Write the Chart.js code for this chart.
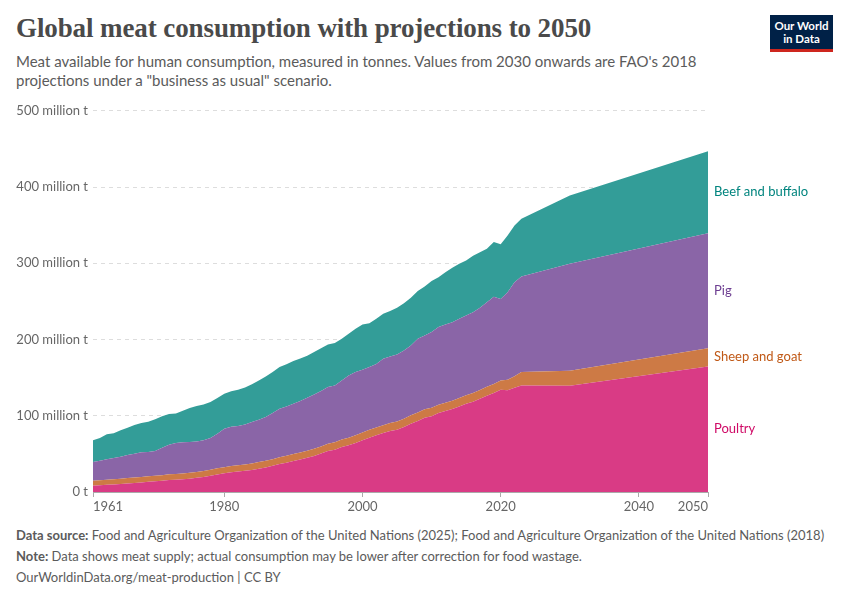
<!DOCTYPE html>
<html lang="en">
<head>
    <meta charset="UTF-8">
    <title>Global meat consumption with projections to 2050</title>
    <script src="https://cdnjs.cloudflare.com/ajax/libs/Chart.js/4.4.0/chart.umd.min.js"></script>
    <style>
        * {
            margin: 0;
            padding: 0;
            box-sizing: border-box;
        }

        body {
            width: 850px;
            height: 600px;
            background: #fff;
            font-family: 'Lato', sans-serif;
            position: relative;
            overflow: hidden;
        }

        h1 {
            position: absolute;
            left: 16px;
            top: 13px;
            font-family: 'Liberation Serif', serif;
            font-weight: 700;
            font-size: 27px;
            color: #4a4a4a;
            letter-spacing: -0.1px;
        }

        .subtitle {
            position: absolute;
            left: 16px;
            top: 52px;
            width: 720px;
            font-size: 15px;
            line-height: 18.5px;
            color: #5b5b5b;
        }

        .logo {
            position: absolute;
            left: 770px;
            top: 15px;
            width: 63px;
            height: 37px;
            background: #002147;
            border-bottom: 3px solid #ce261e;
            color: #fff;
            font-size: 11.5px;
            line-height: 13px;
            text-align: center;
            padding-top: 4px;
            font-weight: 700;
        }

        .chart-box {
            position: absolute;
            left: 0;
            top: 98px;
            width: 850px;
            height: 422px;
        }

        .footer {
            position: absolute;
            left: 16px;
            top: 525px;
            font-size: 13px;
            line-height: 21px;
            color: #5b5b5b;
        }

        .footer b {
            font-weight: 700;
        }
    </style>
</head>
<body>
    <h1>Global meat consumption with projections to 2050</h1>
    <div class="subtitle">Meat available for human consumption, measured in tonnes. Values from 2030 onwards are FAO's 2018 projections under a "business as usual" scenario.</div>
    <div class="logo">Our World<br>in Data</div>

    <div class="chart-box">
        <canvas id="meatChart"></canvas>
    </div>

    <div class="footer">
        <div><b>Data source:</b> Food and Agriculture Organization of the United Nations (2025); Food and Agriculture Organization of the United Nations (2018)</div>
        <div><b>Note:</b> Data shows meat supply; actual consumption may be lower after correction for food wastage.</div>
        <div>OurWorldinData.org/meat-production | CC BY</div>
    </div>

    <script>
        // years: 1961-2023 observed, 2030 and 2050 FAO projections
        const years = [
            1961, 1962, 1963, 1964, 1965, 1966, 1967, 1968, 1969, 1970,
            1971, 1972, 1973, 1974, 1975, 1976, 1977, 1978, 1979, 1980,
            1981, 1982, 1983, 1984, 1985, 1986, 1987, 1988, 1989, 1990,
            1991, 1992, 1993, 1994, 1995, 1996, 1997, 1998, 1999, 2000,
            2001, 2002, 2003, 2004, 2005, 2006, 2007, 2008, 2009, 2010,
            2011, 2012, 2013, 2014, 2015, 2016, 2017, 2018, 2019, 2020,
            2021, 2022, 2023, 2030, 2050
        ];

        // million tonnes
        const poultry = [
            8.3, 8.8, 9.5, 10.0, 10.6, 11.3, 11.9, 12.6, 13.3, 14.0,
            14.8, 15.8, 16.2, 16.8, 17.5, 18.6, 19.8, 21.2, 23.0, 24.6,
            26.0, 26.8, 27.8, 29.0, 30.6, 32.2, 34.3, 36.6, 38.4, 40.6,
            42.5, 44.8, 47.3, 50.4, 53.7, 55.5, 59.0, 61.2, 64.2, 67.8,
            71.3, 74.3, 77.3, 80.0, 81.8, 85.2, 89.6, 93.1, 97.5, 99.5,
            103.5, 106.2, 108.8, 112.3, 115.8, 118.5, 122.4, 126.3, 129.8, 134.2,
            133.3, 136.8, 139.8, 139.5, 164.7
        ];
        const sheepGoat = [
            6.5, 6.6, 6.7, 6.8, 6.9, 7.0, 7.1, 7.2, 7.2, 7.3,
            7.3, 7.4, 7.4, 7.5, 7.6, 7.7, 7.8, 7.9, 8.0, 8.0,
            8.2, 8.3, 8.4, 8.5, 8.6, 8.7, 8.8, 9.0, 9.2, 9.4,
            9.4, 9.3, 9.3, 9.4, 9.5, 9.6, 9.8, 10.0, 10.1, 10.2,
            10.2, 10.3, 10.4, 10.6, 10.8, 10.9, 11.0, 11.1, 11.1, 10.9,
            10.8, 10.8, 10.9, 11.0, 11.1, 11.2, 11.4, 11.6, 11.8, 12.2,
            14.0, 15.0, 17.5, 19.5, 24.0
        ];
        const pig = [
            24.6, 25.7, 26.7, 27.8, 28.8, 30.2, 31.3, 32.2, 32.0, 32.5,
            35.9, 38.8, 40.6, 40.8, 40.5, 40.1, 40.2, 41.7, 45.5, 50.5,
            51.3, 51.4, 52.5, 54.2, 55.6, 57.4, 60.5, 63.7, 64.7, 65.8,
            67.4, 69.6, 71.4, 72.6, 74.4, 74.7, 77.6, 81.7, 83.0, 82.4,
            82.5, 83.4, 87.1, 87.2, 87.9, 89.6, 91.7, 96.8, 96.8, 99.3,
            102.0, 102.8, 103.1, 104.0, 104.7, 106.2, 107.9, 111.1, 114.4, 106.6,
            114.8, 123.4, 125.4, 140.3, 150.8
        ];
        const beefBuffalo = [
            28.4, 29.7, 32.7, 32.3, 34.6, 35.9, 37.5, 38.4, 39.7, 41.5,
            41.2, 40.2, 38.9, 41.6, 44.5, 46.3, 47.1, 47.2, 46.7, 45.8,
            46.7, 47.5, 48.3, 49.5, 51.6, 53.3, 53.7, 54.5, 55.1, 55.9,
            55.9, 55.1, 55.5, 56.3, 56.0, 55.5, 54.6, 54.7, 56.9, 59.4,
            57.5, 59.3, 59.0, 59.5, 61.2, 62.0, 62.5, 62.5, 64.2, 67.0,
            65.5, 68.5, 71.3, 72.0, 72.1, 73.9, 72.8, 70.0, 72.0, 72.0,
            74.3, 74.3, 75.6, 89.7, 107.5
        ];

        const seriesNames = ['Poultry', 'Sheep and goat', 'Pig', 'Beef and buffalo'];
        const seriesData = [poultry, sheepGoat, pig, beefBuffalo];
        const fillColors = ['#d93b85', '#cd7a45', '#8a65a7', '#339d98'];
        const labelColors = ['#cf0a66', '#c05917', '#6d3e91', '#00847e'];

        const xTicks = [1961, 1980, 2000, 2020, 2040, 2050];

        // names at the right edge, centred on each band at 2050,
        // plus the year labels (first one left-aligned, last one right-aligned)
        const extraText = {
            id: 'extraText',
            afterDatasetsDraw(chart) {
                const ctx = chart.ctx;
                const x = chart.scales.x;
                const y = chart.scales.y;
                const last = years.length - 1;
                let base = 0;
                ctx.save();
                ctx.font = '13px Lato';
                ctx.textBaseline = 'middle';
                ctx.textAlign = 'left';
                seriesData.forEach((arr, i) => {
                    const mid = base + arr[last] / 2;
                    base += arr[last];
                    ctx.fillStyle = labelColors[i];
                    ctx.fillText(seriesNames[i], chart.chartArea.right + 6, y.getPixelForValue(mid));
                });

                ctx.fillStyle = '#666';
                xTicks.forEach((v, i) => {
                    ctx.textAlign = i === 0 ? 'left' : (i === xTicks.length - 1 ? 'right' : 'center');
                    ctx.fillText(String(v), x.getPixelForValue(v), chart.chartArea.bottom + 15);
                });
                ctx.restore();
            }
        };

        const ctx = document.getElementById('meatChart').getContext('2d');

        new Chart(ctx, {
            type: 'line',
            data: {
                datasets: seriesData.map((arr, i) => ({
                    label: seriesNames[i],
                    data: years.map((yr, j) => ({ x: yr, y: arr[j] })),
                    backgroundColor: fillColors[i],
                    borderWidth: 0,
                    pointRadius: 0,
                    tension: 0,
                    fill: i === 0 ? 'origin' : '-1'
                }))
            },
            options: {
                responsive: true,
                maintainAspectRatio: false,
                animation: false,
                layout: { padding: { left: 0, right: 142, top: 10, bottom: 0 } },
                plugins: {
                    legend: { display: false },
                    tooltip: { enabled: false }
                },
                scales: {
                    x: {
                        type: 'linear',
                        min: 1961,
                        max: 2050,
                        afterBuildTicks(scale) {
                            scale.ticks = xTicks.map(v => ({ value: v }));
                        },
                        afterFit(scale) {
                            scale.height = 28;
                        },
                        ticks: {
                            autoSkip: false,
                            maxRotation: 0,
                            color: 'rgba(0,0,0,0)',
                            font: { family: 'Lato', size: 13 },
                            callback: v => String(v)
                        },
                        grid: {
                            drawOnChartArea: false,
                            drawTicks: true,
                            tickLength: 5,
                            color: '#aaa'
                        },
                        border: { display: true, color: '#aaa' }
                    },
                    y: {
                        stacked: true,
                        min: 0,
                        max: 500,
                        afterFit(scale) {
                            scale.width = 93;
                        },
                        ticks: {
                            stepSize: 100,
                            padding: 5,
                            color: '#666',
                            font: { family: 'Lato', size: 13 },
                            callback: v => v === 0 ? '0 t' : v + ' million t'
                        },
                        grid: {
                            color: '#dddddd',
                            drawTicks: false
                        },
                        border: { display: false, dash: [4, 4] }
                    }
                }
            },
            plugins: [extraText]
        });
    </script>
</body>
</html>
